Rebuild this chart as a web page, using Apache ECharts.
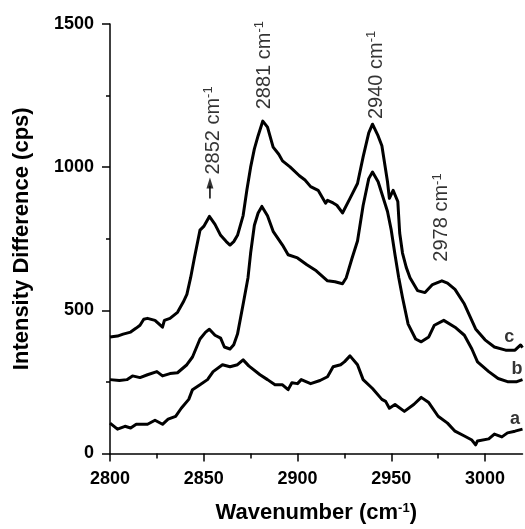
<!DOCTYPE html>
<html><head><meta charset="utf-8">
<script src="https://cdn.jsdelivr.net/npm/echarts@6/dist/echarts.min.js"></script>
<style>html,body{margin:0;padding:0;background:#fff}#c{width:525px;height:529px}</style>
</head><body><div id="c"></div>
<script>
// ---- data ----
const cX = [2800,2804,2807,2811,2814,2816,2818,2820,2824,2828,2829,2832,2836,2839,2841,2843,2845,2848,2850,2853,2856,2859,2862,2864,2866,2868,2871,2873,2875,2877,2879,2881.5,2884,2887,2890,2892,2896,2901,2904,2907,2911,2915,2916,2919,2921,2924,2928,2932,2935,2938,2940,2943,2945,2948,2949,2951,2952,2953.5,2954.5,2956,2958,2960,2964,2968,2972,2977,2980,2984,2989,2995,3000,3005,3011,3016,3019,3020];
const cY = [407,410,417,424,438,448,469,472,465,441,465,472,493,528,556,614,683,780,793,828,800,762,740,728,740,762,831,920,1000,1064,1110,1161,1140,1070,1045,1022,1001,970,955,932,919,874,884,875,867,840,891,943,1036,1120,1150,1109,1075,949,891,919,925,880,770,700,650,614,569,562,590,603,595,573,522,435,397,372,361,361,379,370];
const bX = [2800,2805,2809,2812,2816,2820,2825,2828,2832,2836,2841,2844,2848,2851,2853,2856,2859,2861,2864,2866,2868,2871,2873.6,2875,2877,2879,2881,2884,2887,2892,2895,2900,2905,2910,2916,2920,2924,2926,2929,2932,2935,2938,2940,2943,2948,2950,2952,2954,2956,2959,2963,2966,2970,2973,2978,2984,2989,2993,2996,3002,3007,3012,3017,3020];
const bY = [258,255,258,271,265,275,286,271,279,282,310,337,400,424,434,413,403,372,365,380,417,521,614,700,797,840,863,830,776,728,694,683,659,638,603,600,593,614,680,742,866,960,983,949,845,780,694,614,545,452,400,390,407,448,465,441,413,365,320,286,262,251,251,258];
const aX = [2800,2804,2808,2811,2814,2820,2824,2828,2831,2835,2838,2842,2844,2848,2852,2855,2860,2864,2868,2871,2874,2875,2880,2884,2888,2892,2895,2897,2900,2902,2907,2912,2916,2919,2923,2925,2928,2932,2935,2940,2945,2947,2949,2952,2957,2962,2966,2970,2975,2980,2984,2989,2993,2995,2996,3002,3005,3009,3012,3016,3020];
const aY = [106,85,95,89,102,102,116,102,120,130,158,189,223,240,258,286,310,303,310,327,306,310,275,258,240,240,223,247,244,258,244,255,268,303,310,320,341,310,258,227,189,182,158,171,147,171,196,178,130,106,78,61,47,30,44,51,68,58,72,78,85];

const xMajorTicks = [2800,2850,2900,2950,3000];
const xMinorTicks = [2825,2875,2925,2975];

// peak annotations
const annText = ['2852','2881','2940','2978'];
const annX = [2855,2882.3,2942,2977];
const annY = [974,1202,1168,670];
// arrow under the 2852 annotation: shaft and head
const arrowX = [2853.3, 2853.3];
const arrowY = [891, 935];
const arrowHeadY = 945;

// curve letters
const curveLabels = ['a','b','c'];
const curveLabelX = [3016,3017,3013];
const curveLabelY = [121,294,407];

// ---- chart ----
const FF = 'Liberation Sans, Arial, Helvetica, sans-serif';
const pairs = (xs, ys) => xs.map((x, i) => [x, ys[i]]);
const lineSeries = (name, xs, ys, w) => ({
  name, type: 'line', data: pairs(xs, ys), showSymbol: false, symbol: 'none',
  lineStyle: { color: '#000', width: w, join: 'round' }, silent: true, animation: false, z: 3
});
const plain = v => String(v);

const chart = echarts.init(document.getElementById('c'), null, { renderer: 'canvas' });
chart.setOption({
  animation: false,
  backgroundColor: '#fff',
  grid: { left: 110, right: 2.5, top: 24, bottom: 71.4, containLabel: false },
  xAxis: [{
    type: 'value', min: 2800, max: 3020, interval: 50, position: 'bottom',
    axisLine: { show: true, lineStyle: { color: '#000', width: 1.5 } },
    axisTick: { show: true, customValues: xMajorTicks, length: 8, lineStyle: { color: '#000', width: 1.5 } },
    axisLabel: { customValues: xMajorTicks, formatter: plain, margin: 17, color: '#000', fontFamily: FF, fontWeight: 'bold', fontSize: 18 },
    splitLine: { show: false },
    name: '{t|Wavenumber (cm}{s|-1}{t|)}', nameLocation: 'middle', nameGap: 48.5,
    nameTextStyle: { rich: {
      t: { fontFamily: FF, fontWeight: 'bold', fontSize: 22, color: '#000', lineHeight: 22 },
      s: { fontFamily: FF, fontWeight: 'bold', fontSize: 13, color: '#000', verticalAlign: 'top', lineHeight: 22 }
    } }
  }, {
    type: 'value', min: 2800, max: 3020, interval: 25, position: 'bottom', gridIndex: 0,
    axisLine: { show: false },
    axisTick: { show: true, customValues: xMinorTicks, length: 5, lineStyle: { color: '#000', width: 1.5 } },
    axisLabel: { show: false }, splitLine: { show: false }
  }],
  yAxis: {
    type: 'value', min: 0, max: 1500, interval: 500,
    axisLine: { show: true, lineStyle: { color: '#000', width: 1.5 } },
    axisTick: { show: true, length: 8, lineStyle: { color: '#000', width: 1.5 } },
    minorTick: { show: true, splitNumber: 2, length: 4, lineStyle: { color: '#000', width: 1.5 } },
    axisLabel: { formatter: plain, margin: 16, color: '#000', fontFamily: FF, fontWeight: 'bold', fontSize: 18 },
    splitLine: { show: false },
    name: 'Intensity Difference (cps)', nameLocation: 'middle', nameGap: 77,
    nameTextStyle: { fontFamily: FF, fontWeight: 'bold', fontSize: 22, color: '#000' }
  },
  series: [
    lineSeries('a', aX, aY, 3),
    lineSeries('b', bX, bY, 3),
    lineSeries('c', cX, cY, 3),
    lineSeries('arrow', arrowX, arrowY, 1.5),
    {
      type: 'scatter', silent: true, symbol: 'triangle', symbolSize: [7, 11],
      itemStyle: { color: '#000' },
      data: [[arrowX[0], arrowHeadY]], z: 5
    },
    {
      type: 'scatter', silent: true, symbolSize: 1, itemStyle: { color: 'rgba(0,0,0,0)' },
      data: annText.map((t, i) => [annX[i], annY[i]]),
      label: {
        show: true, position: 'inside', rotate: 90, align: 'left', verticalAlign: 'middle',
        formatter: p => '{n|' + annText[p.dataIndex] + ' cm}{s|-1}',
        rich: {
          n: { fontFamily: FF, fontSize: 20, color: '#000', lineHeight: 22 },
          s: { fontFamily: FF, fontSize: 13, color: '#000', verticalAlign: 'top', lineHeight: 22 }
        }
      },
      z: 5
    },
    {
      type: 'scatter', silent: true, symbolSize: 1, itemStyle: { color: 'rgba(0,0,0,0)' },
      data: curveLabels.map((t, i) => [curveLabelX[i], curveLabelY[i]]),
      label: {
        show: true, position: 'inside', align: 'center', verticalAlign: 'middle',
        formatter: p => curveLabels[p.dataIndex],
        fontFamily: FF, fontWeight: 'bold', fontSize: 18, color: '#000'
      },
      z: 5
    }
  ]
});
</script></body></html>
